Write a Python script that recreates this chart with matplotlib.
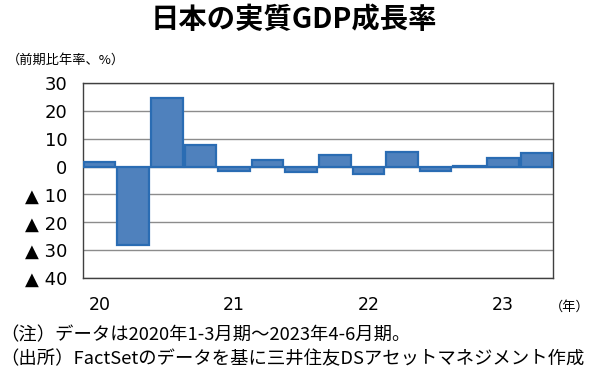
import numpy as np
import matplotlib
matplotlib.use("Agg")
from matplotlib import pyplot as plt

plt.rcParams['font.family'] = ['Noto Sans CJK JP', 'DejaVu Sans']

# quarterly real GDP growth, 2020 Q1 .. 2023 Q2 (annualized q/q, %)
quarters = ["20Q1", "20Q2", "20Q3", "20Q4", "21Q1", "21Q2", "21Q3", "21Q4",
            "22Q1", "22Q2", "22Q3", "22Q4", "23Q1", "23Q2"]
growth = [1.5, -28.0, 24.4, 7.8, -1.6, 2.2, -1.9, 4.3, -2.6, 5.1, -1.6, 0.2, 3.2, 4.8]

yticks = [30, 20, 10, 0, -10, -20, -30, -40]
ytick_labels = ["30", "20", "10", "0", "▲ 10", "▲ 20", "▲ 30", "▲ 40"]
year_pos = [0, 4, 8, 12]   # Q1 of each year
year_labels = ["20", "21", "22", "23"]

fig = plt.figure(figsize=(6, 3.8), dpi=100)
ax = fig.add_axes([0.138, 0.268, 0.784, 0.514])

x = np.arange(len(growth))
ax.bar(x, growth, width=0.94, color="#4f81bd", edgecolor="#2a6cb3", linewidth=1.6, zorder=3)

ax.set_xlim(-0.5, len(growth) - 0.5)
ax.set_ylim(-40, 30)
ax.set_yticks(yticks)
ax.set_yticklabels(ytick_labels, family="DejaVu Sans", fontsize=13)
ax.set_xticks(year_pos)
ax.set_xticklabels(year_labels, family="DejaVu Sans", fontsize=12.5)
ax.tick_params(axis="y", length=0, pad=11)
ax.tick_params(axis="x", length=0, pad=13)
ax.grid(axis="y", color="#8c8c8c", linewidth=1.0, zorder=0)
for s in ax.spines.values():
    s.set_color("#404040")
    s.set_linewidth(1.0)

fig.text(0.49, 0.947, "日本の実質GDP成長率", ha="center", va="center",
         fontsize=20.4, fontweight="bold")
fig.text(0.012, 0.842, "（前期比年率、%）", ha="left", va="center", fontsize=9.5)
fig.text(0.95, 0.192, "（年）", ha="center", va="center", fontsize=9.5)
fig.text(0.0, 0.118, "（注）データは2020年1-3月期～2023年4-6月期。", ha="left",
         va="center", fontsize=13.2)
fig.text(0.0, 0.055, "（出所）FactSetのデータを基に三井住友DSアセットマネジメント作成",
         ha="left", va="center", fontsize=13.2)

fig.savefig("out.png", dpi=100)
